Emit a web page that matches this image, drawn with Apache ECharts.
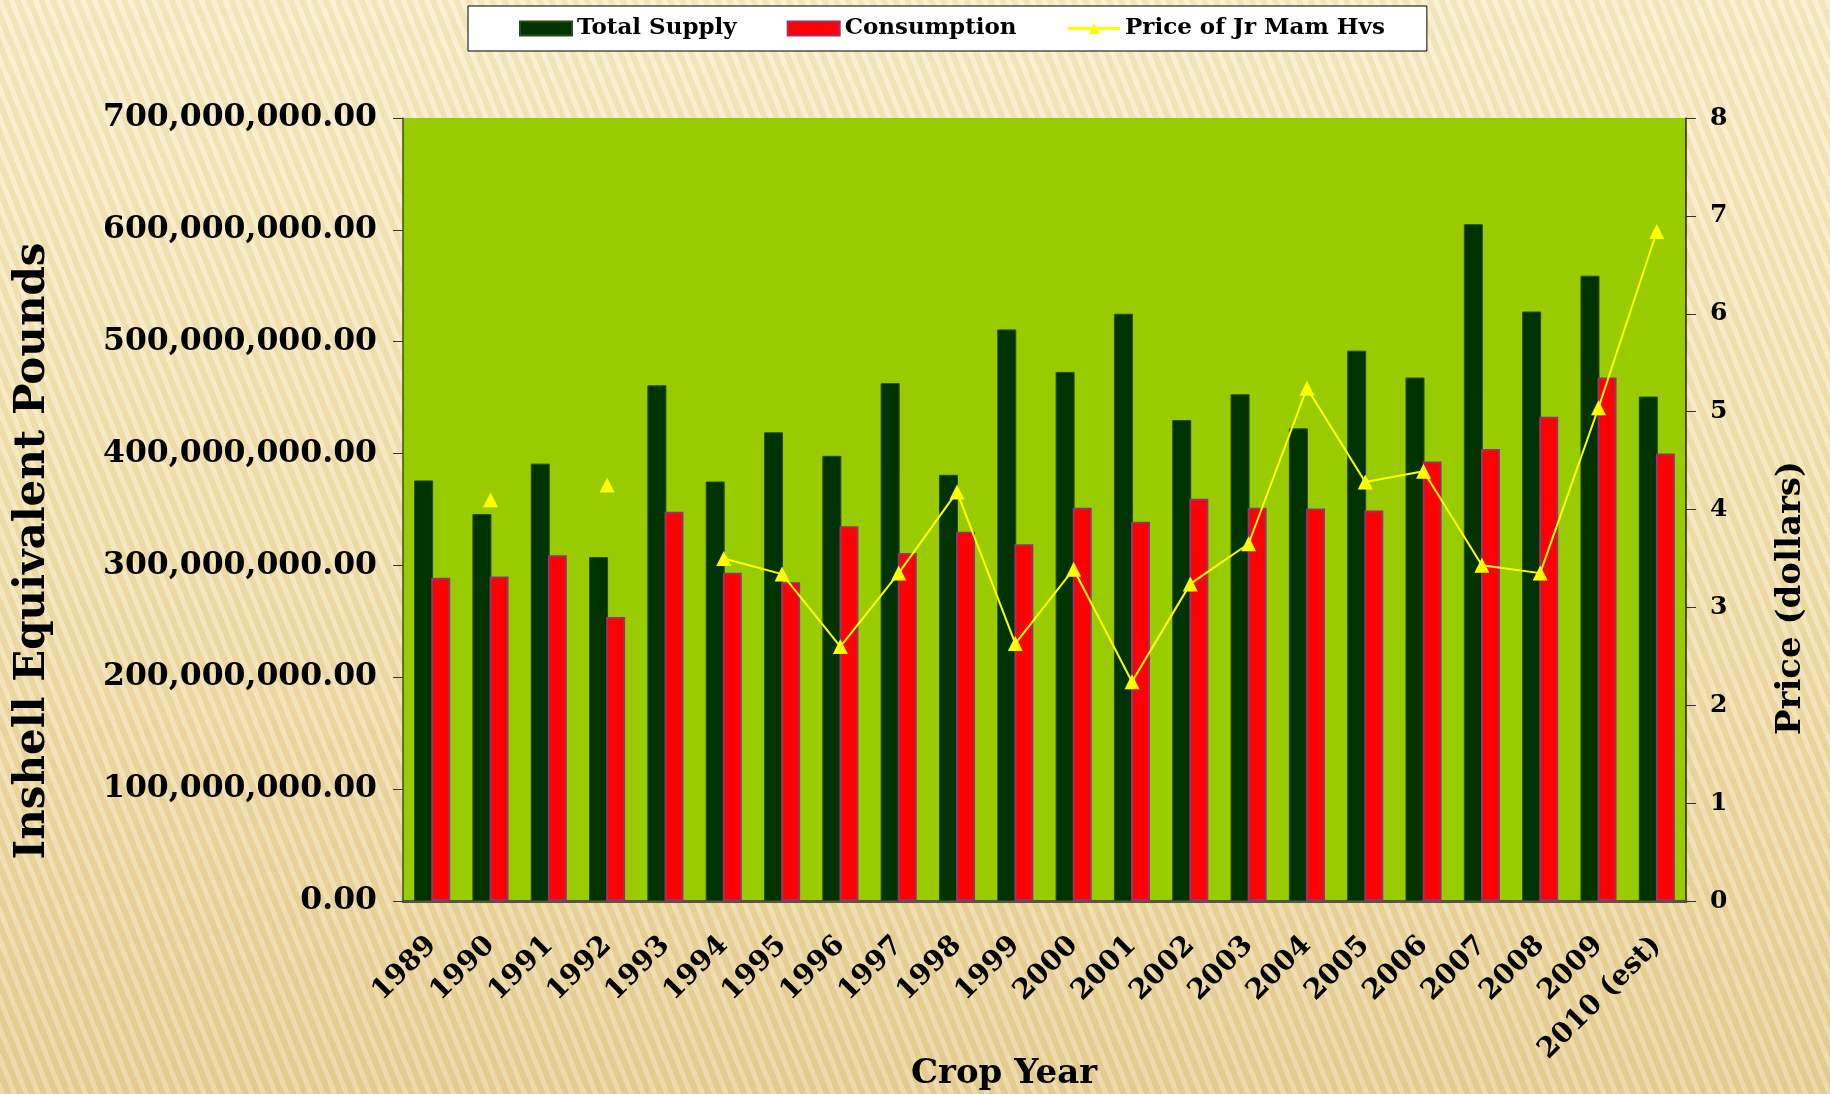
<!DOCTYPE html>
<html>
<head>
<meta charset="utf-8">
<style>
    html, body {
        margin: 0;
        padding: 0;
    }
    body {
        background:
            repeating-linear-gradient(68deg, rgba(255, 255, 255, 0.22) 0 5px, rgba(190, 160, 80, 0.10) 5px 11px),
            linear-gradient(180deg, #f9edc8 0%, #f3e2b0 45%, #e7d095 100%);
    }
    #chart {
        width: 1830px;
        height: 1094px;
    }
</style>
<script src="https://cdn.jsdelivr.net/npm/echarts@6/dist/echarts.min.js"></script>
</head>
<body>
<div id="chart"></div>
<script>
const years = ['1989', '1990', '1991', '1992', '1993', '1994', '1995', '1996', '1997', '1998', '1999',
    '2000', '2001', '2002', '2003', '2004', '2005', '2006', '2007', '2008', '2009', '2010 (est)'];

const totalSupply = [376000000, 346000000, 391000000, 307500000, 461000000, 375000000, 419000000,
    398000000, 463000000, 381000000, 511000000, 473000000, 525000000, 430000000, 453000000,
    422600000, 492000000, 468000000, 605000000, 527000000, 559000000, 451000000];

const consumption = [289000000, 290000000, 309000000, 254000000, 348000000, 293500000, 285000000,
    335000000, 311000000, 330000000, 319000000, 351600000, 339000000, 359700000, 351600000,
    351000000, 349000000, 393000000, 404000000, 433000000, 468000000, 400000000];

const price = [null, 4.1, null, 4.25, null, 3.5, 3.34, 2.6, 3.35, 4.18, 2.63,
    3.39, 2.24, 3.24, 3.65, 5.24, 4.28, 4.39, 3.43, 3.35, 5.04, 6.84];

const font = 'Georgia, "DejaVu Serif", serif';

const chart = echarts.init(document.getElementById('chart'));

chart.setOption({
    legend: {
        left: 468,
        top: 6,
        padding: [11, 42, 11, 51],
        itemGap: 50,
        itemWidth: 52,
        itemHeight: 14,
        backgroundColor: '#ffffff',
        borderColor: '#000000',
        borderWidth: 1,
        textStyle: {
            fontFamily: font,
            fontWeight: 'bold',
            fontSize: 23,
            color: '#000'
        },
        data: [
            { name: 'Total Supply', icon: 'rect' },
            { name: 'Consumption', icon: 'rect' },
            { name: 'Price of Jr Mam Hvs', lineStyle: { width: 3 } }
        ]
    },
    grid: {
        show: true,
        left: 403,
        right: 144,
        top: 118,
        bottom: 193,
        backgroundColor: '#99cc00',
        borderWidth: 0
    },
    xAxis: {
        type: 'category',
        data: years,
        axisLine: {
            lineStyle: {
                color: '#555544',
                width: 3
            }
        },
        axisTick: {
            length: 10,
            lineStyle: {
                color: '#222'
            }
        },
        axisLabel: {
            rotate: 45,
            margin: 40,
            interval: 0,
            fontFamily: font,
            fontWeight: 'bold',
            fontSize: 28,
            color: '#000'
        }
    },
    yAxis: [
        {
            type: 'value',
            min: 0,
            max: 700000000,
            interval: 100000000,
            axisLine: {
                show: true,
                lineStyle: {
                    color: '#3d5010',
                    width: 1.5
                }
            },
            axisTick: {
                show: true,
                length: 10,
                lineStyle: {
                    color: '#333'
                }
            },
            splitLine: {
                show: false
            },
            axisLabel: {
                margin: 26,
                fontFamily: font,
                fontWeight: 'bold',
                fontSize: 31.5,
                color: '#000',
                formatter: v => v.toLocaleString('en-US', { minimumFractionDigits: 2, maximumFractionDigits: 2 })
            }
        },
        {
            type: 'value',
            position: 'right',
            min: 0,
            max: 8,
            interval: 1,
            axisLine: {
                show: true,
                lineStyle: {
                    color: '#222',
                    width: 1.5
                }
            },
            axisTick: {
                show: true,
                length: 10,
                lineStyle: {
                    color: '#333'
                }
            },
            splitLine: {
                show: false
            },
            axisLabel: {
                margin: 24,
                fontFamily: font,
                fontWeight: 'bold',
                fontSize: 25,
                color: '#000'
            }
        }
    ],
    graphic: [
        {
            type: 'text',
            x: 33,
            y: 551,
            rotation: Math.PI / 2,
            style: {
                text: 'Inshell Equivalent Pounds',
                fontFamily: font,
                fontWeight: 'bold',
                fontSize: 42,
                fill: '#000',
                textAlign: 'center',
                textVerticalAlign: 'middle'
            }
        },
        {
            type: 'text',
            x: 1791,
            y: 598,
            rotation: Math.PI / 2,
            style: {
                text: 'Price (dollars)',
                fontFamily: font,
                fontWeight: 'bold',
                fontSize: 34,
                fill: '#000',
                textAlign: 'center',
                textVerticalAlign: 'middle'
            }
        },
        {
            type: 'text',
            x: 1004,
            y: 1074,
            style: {
                text: 'Crop Year',
                fontFamily: font,
                fontWeight: 'bold',
                fontSize: 34,
                fill: '#000',
                textAlign: 'center',
                textVerticalAlign: 'middle'
            }
        }
    ],
    series: [
        {
            name: 'Total Supply',
            type: 'bar',
            barWidth: 19,
            barGap: '-10%',
            itemStyle: {
                color: '#003300',
                borderColor: '#2a4a10',
                borderWidth: 1
            },
            data: totalSupply
        },
        {
            name: 'Consumption',
            type: 'bar',
            barWidth: 19,
            itemStyle: {
                color: '#ff0000',
                borderColor: '#993366',
                borderWidth: 2
            },
            data: consumption
        },
        {
            name: 'Price of Jr Mam Hvs',
            type: 'line',
            yAxisIndex: 1,
            z: 5,
            symbol: 'triangle',
            symbolSize: 15,
            connectNulls: false,
            itemStyle: {
                color: '#ffff00'
            },
            lineStyle: {
                color: '#ffff00',
                width: 2
            },
            data: price
        }
    ]
});
</script>
</body>
</html>
